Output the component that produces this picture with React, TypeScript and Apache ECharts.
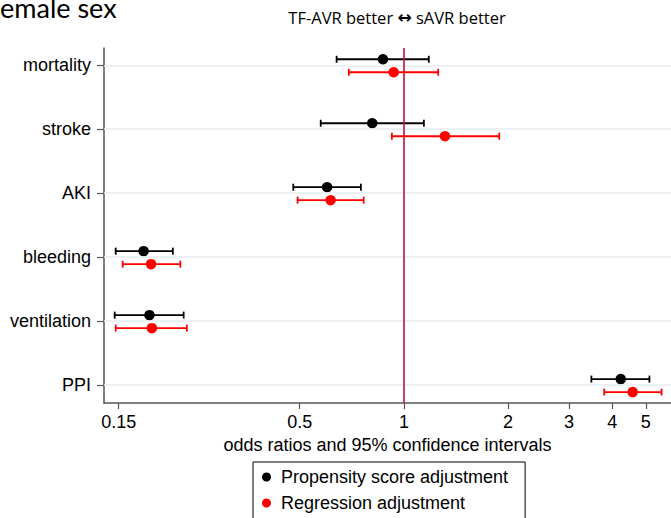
import React, { useEffect, useRef } from "react";
import * as echarts from "echarts";

const outcomes = ["mortality", "stroke", "AKI", "bleeding", "ventilation", "PPI"];
const psOR = [0.87, 0.81, 0.6, 0.177, 0.184, 4.23];
const psLow = [0.639, 0.575, 0.479, 0.147, 0.146, 3.48];
const psHigh = [1.18, 1.142, 0.751, 0.215, 0.231, 5.12];
const regOR = [0.934, 1.314, 0.614, 0.186, 0.187, 4.58];
const regLow = [0.693, 0.923, 0.493, 0.154, 0.147, 3.79];
const regHigh = [1.256, 1.886, 0.765, 0.226, 0.236, 5.55];
const xTicks = [0.15, 0.5, 1, 2, 3, 4, 5];
const seriesNames = ["Propensity score adjustment", "Regression adjustment"];
const titleText = "emale sex";
const subtitleLeft = "TF-AVR better";
const subtitleArrow = "\u2194";
const subtitleRight = "sAVR better";
const xName = "odds ratios and 95% confidence intervals";

const yIdx = outcomes.map((_, i) => i);
const FONT = "Liberation Sans, Arial, sans-serif";

function errorBars(offset: number, color: string) {
  return (params: any, api: any) => {
    const y = api.value(0);
    const lo = api.coord([api.value(1), y]);
    const hi = api.coord([api.value(2), y]);
    const yy = lo[1] + offset;
    const cap = 3.5;
    const style = { stroke: color, lineWidth: 1.8 };
    return {
      type: "group",
      children: [
        { type: "line", shape: { x1: lo[0], y1: yy, x2: hi[0], y2: yy }, style },
        { type: "line", shape: { x1: lo[0], y1: yy - cap, x2: lo[0], y2: yy + cap }, style },
        { type: "line", shape: { x1: hi[0], y1: yy - cap, x2: hi[0], y2: yy + cap }, style },
      ],
    };
  };
}

export default function App() {
  const ref = useRef<HTMLDivElement>(null);
  useEffect(() => {
    if (!ref.current) return;
    const chart = echarts.init(ref.current, null, { renderer: "svg" });
    const option: any = {
      animation: false,
      backgroundColor: "#fff",
      textStyle: { fontFamily: FONT },
      graphic: [
        {
          type: "text",
          x: 0,
          y: -6,
          style: { text: titleText, font: "27px Lato", fill: "#000" },
        },
        {
          type: "text",
          x: 397,
          y: 17,
          style: {
            text: `{t|${subtitleLeft} }{a|${subtitleArrow}}{t| ${subtitleRight}}`,
            fill: "#000",
            align: "center",
            verticalAlign: "middle",
            rich: {
              t: { fontFamily: "Open Sans", fontSize: 16.5, fill: "#000" },
              a: { fontFamily: "DejaVu Sans", fontSize: 17, fontWeight: "bold", fill: "#000" },
            },
          },
        },
      ],
      legend: {
        data: seriesNames.map((n) => ({ name: n, icon: "circle" })),
        orient: "vertical",
        left: 253,
        top: 462,
        height: 120,
        itemWidth: 9,
        itemHeight: 9,
        itemGap: 6,
        padding: [5, 17, 20, 9],
        borderColor: "#000",
        borderWidth: 1,
        borderRadius: 0,
        selectedMode: false,
        textStyle: { fontFamily: FONT, fontSize: 18, color: "#000", lineHeight: 20, padding: [0, 0, 0, 5] },
      },
      grid: { left: 104, right: 0, top: 48, bottom: 115, containLabel: false },
      xAxis: {
        type: "log",
        logBase: 10,
        min: 0.136,
        max: 5.91,
        name: xName,
        nameLocation: "middle",
        nameGap: 28,
        nameTextStyle: { fontFamily: FONT, fontSize: 18, color: "#000" },
        axisLine: { show: true, onZero: false, lineStyle: { color: "#555", width: 1.5 } },
        axisTick: { show: true, length: 6, customValues: xTicks, lineStyle: { color: "#555", width: 1.2 } },
        axisLabel: {
          customValues: xTicks,
          formatter: (v: number) => String(v),
          fontFamily: FONT,
          fontSize: 18,
          color: "#000",
          margin: 10,
        },
        splitLine: { show: false },
        minorTick: { show: false },
      },
      yAxis: {
        type: "value",
        inverse: true,
        min: -0.27,
        max: 5.28,
        axisLine: { show: true, onZero: false, lineStyle: { color: "#555", width: 1.5 } },
        axisTick: { show: true, length: 7, customValues: yIdx, lineStyle: { color: "#555", width: 1.2 } },
        axisLabel: {
          customValues: yIdx,
          formatter: (v: number) => outcomes[Math.round(v)] ?? "",
          fontFamily: FONT,
          fontSize: 18,
          color: "#000",
          margin: 13,
        },
        splitLine: { show: false },
      },
      series: [
        {
          name: "grid",
          type: "scatter",
          data: [],
          z: 1,
          silent: true,
          markLine: {
            silent: true,
            symbol: "none",
            label: { show: false },
            animation: false,
            data: [
              ...yIdx.map((i) => ({ yAxis: i, lineStyle: { color: "#e6eef0", width: 1.5, type: "solid" } })),
              { xAxis: 1, lineStyle: { color: "#c0103a", width: 1.6, type: "solid" } },
            ],
          },
        },
        {
          name: "ps-ci",
          type: "custom",
          renderItem: errorBars(-6, "#000"),
          encode: { x: [1, 2], y: 0 },
          data: yIdx.map((i) => [i, psLow[i], psHigh[i]]),
          z: 3,
          silent: true,
        },
        {
          name: "reg-ci",
          type: "custom",
          renderItem: errorBars(7, "#ff0000"),
          encode: { x: [1, 2], y: 0 },
          data: yIdx.map((i) => [i, regLow[i], regHigh[i]]),
          z: 3,
          silent: true,
        },
        {
          name: seriesNames[0],
          type: "scatter",
          data: yIdx.map((i) => [psOR[i], i]),
          symbol: "circle",
          symbolSize: 10.5,
          symbolOffset: [0, -6],
          itemStyle: { color: "#000", opacity: 1 },
          z: 4,
        },
        {
          name: seriesNames[1],
          type: "scatter",
          data: yIdx.map((i) => [regOR[i], i]),
          symbol: "circle",
          symbolSize: 10.5,
          symbolOffset: [0, 7],
          itemStyle: { color: "#ff0000", opacity: 1 },
          z: 4,
        },
      ],
    };
    chart.setOption(option);
    return () => chart.dispose();
  }, []);
  return <div ref={ref} style={{ width: 671, height: 518, position: "absolute", left: 0, top: 0 }} />;
}
